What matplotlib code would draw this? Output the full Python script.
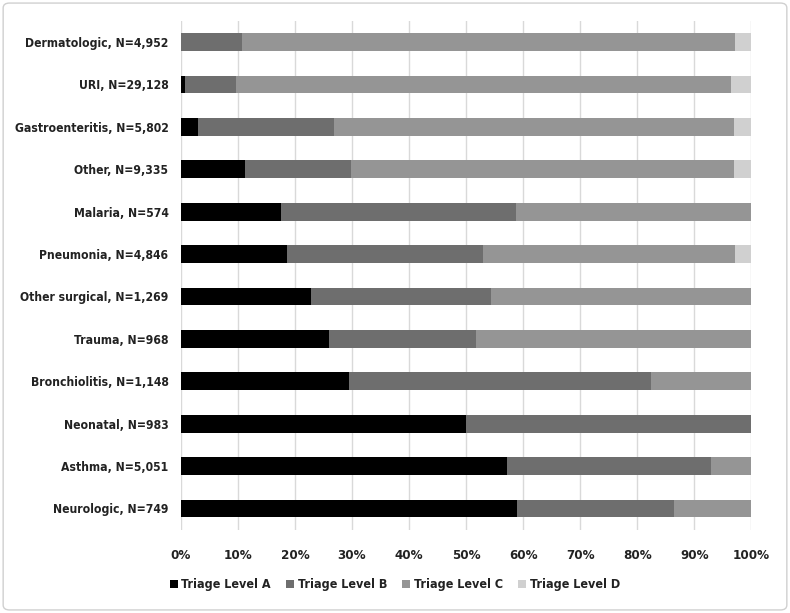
import matplotlib
matplotlib.use("Agg")
import matplotlib.pyplot as plt
from matplotlib.patches import FancyBboxPatch
import numpy as np

plt.rcParams['font.family'] = ['DejaVu Sans']
plt.rcParams['font.stretch'] = 'condensed'

categories = ["Dermatologic, N=4,952", "URI, N=29,128", "Gastroenteritis, N=5,802",
              "Other, N=9,335", "Malaria, N=574", "Pneumonia, N=4,846",
              "Other surgical, N=1,269", "Trauma, N=968", "Bronchiolitis, N=1,148",
              "Neonatal, N=983", "Asthma, N=5,051", "Neurologic, N=749"]
level_a = [0.0, 0.8, 3.0, 11.2, 17.6, 18.6, 22.8, 25.9, 29.4, 50.0, 57.1, 59.0]
level_b = [10.7, 8.85, 23.9, 18.7, 41.2, 34.3, 31.5, 25.9, 53.0, 50.0, 35.8, 27.4]
level_c = [86.4, 86.75, 70.1, 67.1, 41.2, 44.3, 45.7, 48.2, 17.6, 0.0, 7.1, 13.6]
level_d = [2.9, 3.6, 3.0, 3.0, 0.0, 2.8, 0.0, 0.0, 0.0, 0.0, 0.0, 0.0]
series_names = ["Triage Level A", "Triage Level B", "Triage Level C", "Triage Level D"]
colors = ["#000000", "#6e6e6e", "#959595", "#d0d0d0"]

fig = plt.figure(figsize=(7.9, 6.13), dpi=100)
ax = fig.add_axes([0.229, 0.136, 0.722, 0.830])

y = np.arange(len(categories))[::-1]
left = np.zeros(len(categories))
for vals, name, col in zip([level_a, level_b, level_c, level_d], series_names, colors):
    vals = np.array(vals)
    ax.barh(y, vals, left=left, height=0.42, color=col, label=name, zorder=3)
    left += vals

ax.set_xlim(0, 100)
ax.set_ylim(-0.5, len(categories) - 0.5)
ax.set_yticks(y)
ax.set_yticklabels(categories, fontsize=8.7, fontweight='bold', color='#222222')
ax.set_xticks(np.arange(0, 101, 10))
ax.set_xticklabels([f"{v}%" for v in range(0, 101, 10)], fontsize=9.5, fontweight='bold', color='#222222')
ax.tick_params(axis='both', length=0, pad=9)
ax.tick_params(axis='x', pad=14)
ax.grid(axis='x', color='#d9d9d9', linewidth=1, zorder=0)
for s in ax.spines.values():
    s.set_visible(False)

leg = fig.legend(loc='center', bbox_to_anchor=(0.5, 0.046), ncol=4, frameon=False,
                 handlelength=0.65, handleheight=0.7, handletextpad=0.3, columnspacing=1.2,
                 prop={'size': 9, 'weight': 'bold'})
for t in leg.get_texts():
    t.set_color('#222222')

border = FancyBboxPatch((0.004, 0.005), 0.992, 0.99, boxstyle="round,pad=0,rounding_size=0.008",
                        transform=fig.transFigure, fill=False, edgecolor='#d0d0d0', linewidth=1)
fig.patches.append(border)

fig.savefig("out.png", dpi=100)
